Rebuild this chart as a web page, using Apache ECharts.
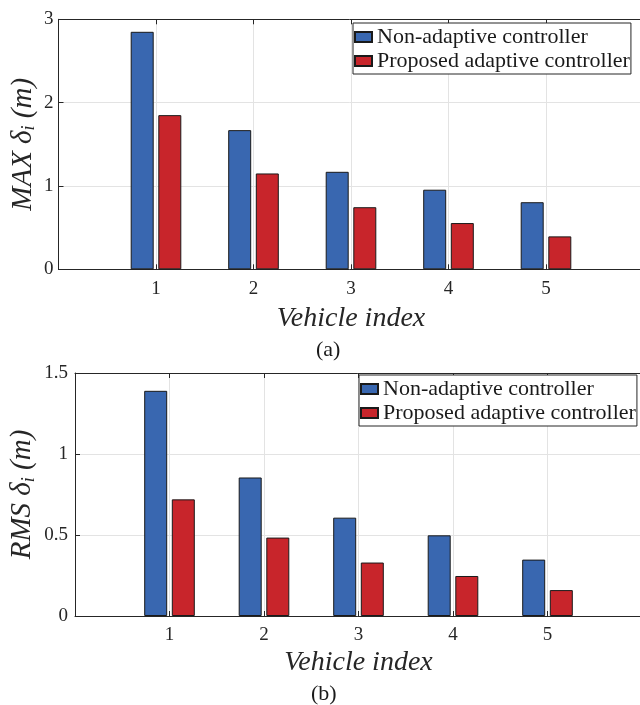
<!DOCTYPE html>
<html>
<head>
<meta charset="utf-8">
<script src="https://cdn.jsdelivr.net/npm/echarts@6/dist/echarts.min.js"></script>
<style>
  html, body { margin: 0; padding: 0; background: #fff; }
  #chart { width: 640px; height: 705px; }
</style>
</head>
<body>
<div id="chart"></div>
<script>
// data
var vehicles = [1, 2, 3, 4, 5];
var maxNonAdaptive = [2.85, 1.67, 1.17, 0.955, 0.805];
var maxAdaptive = [1.85, 1.15, 0.745, 0.555, 0.395];
var rmsNonAdaptive = [1.39, 0.855, 0.607, 0.498, 0.348];
var rmsAdaptive = [0.72, 0.484, 0.33, 0.247, 0.16];
var seriesNames = ['Non-adaptive controller', 'Proposed adaptive controller'];

var chartDom = document.getElementById('chart');
var myChart = echarts.init(chartDom, null, { renderer: 'canvas' });

var serif = 'Liberation Serif';
var frameColor = '#262626';
var blue = '#3967b0';
var red = '#c8252b';

function xAxisFor(gridIndex, gap) {
  return {
    type: 'value', gridIndex: gridIndex, min: 0, max: 6, interval: 1,
    name: 'Vehicle index', nameLocation: 'middle', nameGap: gap,
    nameTextStyle: { fontFamily: serif, fontStyle: 'italic', fontSize: 28, color: '#262626' },
    axisLine: { lineStyle: { color: frameColor, width: 1 } },
    axisTick: { inside: true, length: 5, lineStyle: { color: frameColor } },
    axisLabel: {
      fontFamily: serif, fontSize: 19, color: '#262626', margin: 10,
      formatter: function (v) { return vehicles.indexOf(v) >= 0 ? String(v) : ''; }
    },
    splitLine: { show: true, lineStyle: { color: '#e3e3e3', width: 1 } }
  };
}

function topAxisFor(gridIndex) {
  return {
    type: 'value', gridIndex: gridIndex, position: 'top', min: 0, max: 6, interval: 1,
    axisLine: { show: true, lineStyle: { color: frameColor, width: 1 } },
    axisTick: { inside: true, length: 5, lineStyle: { color: frameColor } },
    axisLabel: { show: false }, splitLine: { show: false }
  };
}

function yAxisFor(gridIndex, max, interval, label, gap, margin) {
  return {
    type: 'value', gridIndex: gridIndex, min: 0, max: max, interval: interval,
    name: label, nameLocation: 'middle', nameGap: gap, nameMoveOverlap: false,
    nameTextStyle: {
      color: '#262626',
      rich: {
        t: { fontFamily: serif, fontStyle: 'italic', fontSize: 29, color: '#262626' },
        s: { fontFamily: serif, fontStyle: 'italic', fontSize: 18, color: '#262626', padding: [13, 0, 0, 0] }
      }
    },
    axisLine: { show: true, lineStyle: { color: frameColor, width: 1 } },
    axisTick: { show: true, inside: true, length: 5, lineStyle: { color: frameColor } },
    axisLabel: { fontFamily: serif, fontSize: 19, color: '#262626', margin: margin },
    splitLine: { show: true, lineStyle: { color: '#e3e3e3', width: 1 } }
  };
}

function barSeries(name, values, color, axisIndex) {
  return {
    name: name, type: 'bar', xAxisIndex: axisIndex, yAxisIndex: axisIndex,
    barWidth: 23, barGap: '20%',
    itemStyle: { color: color, borderColor: '#1a1a1a', borderWidth: 1 },
    data: vehicles.map(function (v, i) { return [v, values[i]]; }),
    z: 3
  };
}

function legendFor(left, top) {
  return {
    orient: 'vertical', left: left, top: top,
    data: seriesNames,
    backgroundColor: '#fff', borderColor: frameColor, borderWidth: 1,
    borderRadius: 0, padding: [3, 1, 2, 1],
    itemWidth: 17, itemHeight: 10, itemGap: 2, itemTextGap: 0,
    icon: 'rect',
    textStyle: { fontFamily: serif, fontSize: 22, color: '#1a1a1a' },
    selectedMode: false
  };
}

var option = {
  animation: false,
  backgroundColor: '#fff',
  grid: [
    { left: 58.5, top: 19.3, width: 585, height: 250, outerBoundsMode: 'none' },
    { left: 75, top: 373, width: 567, height: 243, outerBoundsMode: 'none' }
  ],
  xAxis: [xAxisFor(0, 35), xAxisFor(1, 33), topAxisFor(0), topAxisFor(1)],
  yAxis: [
    yAxisFor(0, 3, 1, '{t|MAX δ}{s|i}{t| (m)}', 20, 5),
    yAxisFor(1, 1.5, 0.5, '{t|RMS δ}{s|i}{t| (m)}', 37, 7)
  ],
  legend: [legendFor(353, 23), legendFor(359, 375)],
  series: [
    barSeries(seriesNames[0], maxNonAdaptive, blue, 0),
    barSeries(seriesNames[1], maxAdaptive, red, 0),
    barSeries(seriesNames[0], rmsNonAdaptive, blue, 1),
    barSeries(seriesNames[1], rmsAdaptive, red, 1)
  ],
  graphic: [
    { type: 'text', left: 316, top: 339, style: { text: '(a)', font: '22px "Liberation Serif"', fill: '#1a1a1a' } },
    { type: 'text', left: 311, top: 683, style: { text: '(b)', font: '22px "Liberation Serif"', fill: '#1a1a1a' } }
  ]
};

myChart.setOption(option);

window.addEventListener('resize', function () {
  myChart.resize();
});
</script>
</body>
</html>
